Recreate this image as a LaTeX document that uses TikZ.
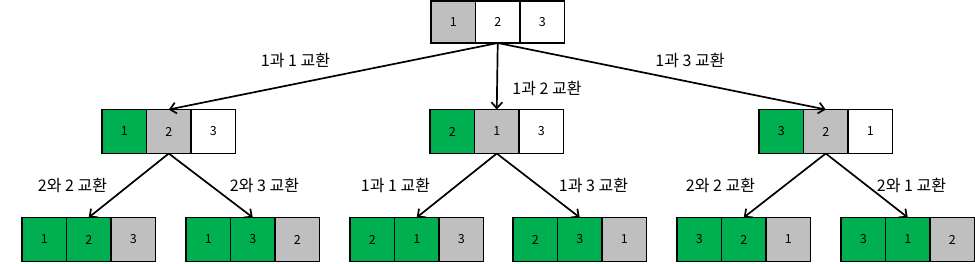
\documentclass[tikz,border=0pt]{standalone}
\usepackage{fontspec}
\setmainfont{Noto Sans CJK KR}
\usetikzlibrary{arrows.meta, positioning}
\definecolor{swapgreen}{HTML}{00B050}
\definecolor{swapgray}{HTML}{BFBFBF}

\begin{document}
\begin{tikzpicture}[
  x=1pt, y=1pt,
  node distance=0pt,
  cell/.style={draw, line width=1.9pt, outer sep=0pt, inner sep=0pt,
               minimum width=44.5pt, minimum height=44pt,
               font=\fontsize{12.5}{14}\selectfont},
  grn/.style={cell, fill=swapgreen},
  gry/.style={cell, fill=swapgray},
  wht/.style={cell, fill=white},
  lbl/.style={font=\fontsize{16}{18}\selectfont, inner sep=0pt},
  ar/.style={-{Straight Barb[length=6pt, width=11pt]}, line width=1.7pt}
]
\useasboundingbox (0,0) rectangle (975,263);

% start: 1 2 3
\node[gry, minimum height=42pt] (t1) at (453.25,241) {1};
\node[wht, minimum height=42pt, right=of t1] (t2) {2};
\node[wht, minimum height=42pt, right=of t2] (t3) {3};

% second row
\node[grn] (a1) at (124.25,131.5) {1};
\node[gry, right=of a1] (a2) {2};
\node[wht, right=of a2] (a3) {3};

\node[grn] (b1) at (452.25,131.5) {2};
\node[gry, right=of b1] (b2) {1};
\node[wht, right=of b2] (b3) {3};

\node[grn] (c1) at (781.25,131.5) {3};
\node[gry, right=of c1] (c2) {2};
\node[wht, right=of c2] (c3) {1};

% third row
\node[grn] (aa1) at (44.25,23.5) {1};
\node[grn, right=of aa1] (aa2) {2};
\node[gry, right=of aa2] (aa3) {3};

\node[grn] (ab1) at (208.25,23.5) {1};
\node[grn, right=of ab1] (ab2) {3};
\node[gry, right=of ab2] (ab3) {2};

\node[grn] (ba1) at (372.25,23.5) {2};
\node[grn, right=of ba1] (ba2) {1};
\node[gry, right=of ba2] (ba3) {3};

\node[grn] (bb1) at (535.25,23.5) {2};
\node[grn, right=of bb1] (bb2) {3};
\node[gry, right=of bb2] (bb3) {1};

\node[grn] (ca1) at (699.25,23.5) {3};
\node[grn, right=of ca1] (ca2) {2};
\node[gry, right=of ca2] (ca3) {1};

\node[grn] (cb1) at (863.25,23.5) {3};
\node[grn, right=of cb1] (cb2) {1};
\node[gry, right=of cb2] (cb3) {2};

\draw[ar] (t2.south) -- (a2.north);
\draw[ar] (t2.south) -- (b2.north);
\draw[ar] (t2.south) -- (c2.north);
\draw[ar] (a2.south) -- (aa2.north);
\draw[ar] (a2.south) -- (ab2.north);
\draw[ar] (b2.south) -- (ba2.north);
\draw[ar] (b2.south) -- (bb2.north);
\draw[ar] (c2.south) -- (ca2.north);
\draw[ar] (c2.south) -- (cb2.north);

\node[lbl] (sa) at (295.5,203) {1과 1 교환};
\node[lbl] (sb) at (547,175) {1과 2 교환};
\node[lbl] (sc) at (690,203) {1과 3 교환};
\node[lbl] (saa) at (72.5,78) {2와 2 교환};
\node[lbl] (sab) at (264.5,78) {2와 3 교환};
\node[lbl] (sba) at (395.5,78) {1과 1 교환};
\node[lbl] (sbb) at (593.5,78) {1과 3 교환};
\node[lbl] (sca) at (720.5,78) {2와 2 교환};
\node[lbl] (scb) at (911.5,78) {2와 1 교환};
\end{tikzpicture}
\end{document}
